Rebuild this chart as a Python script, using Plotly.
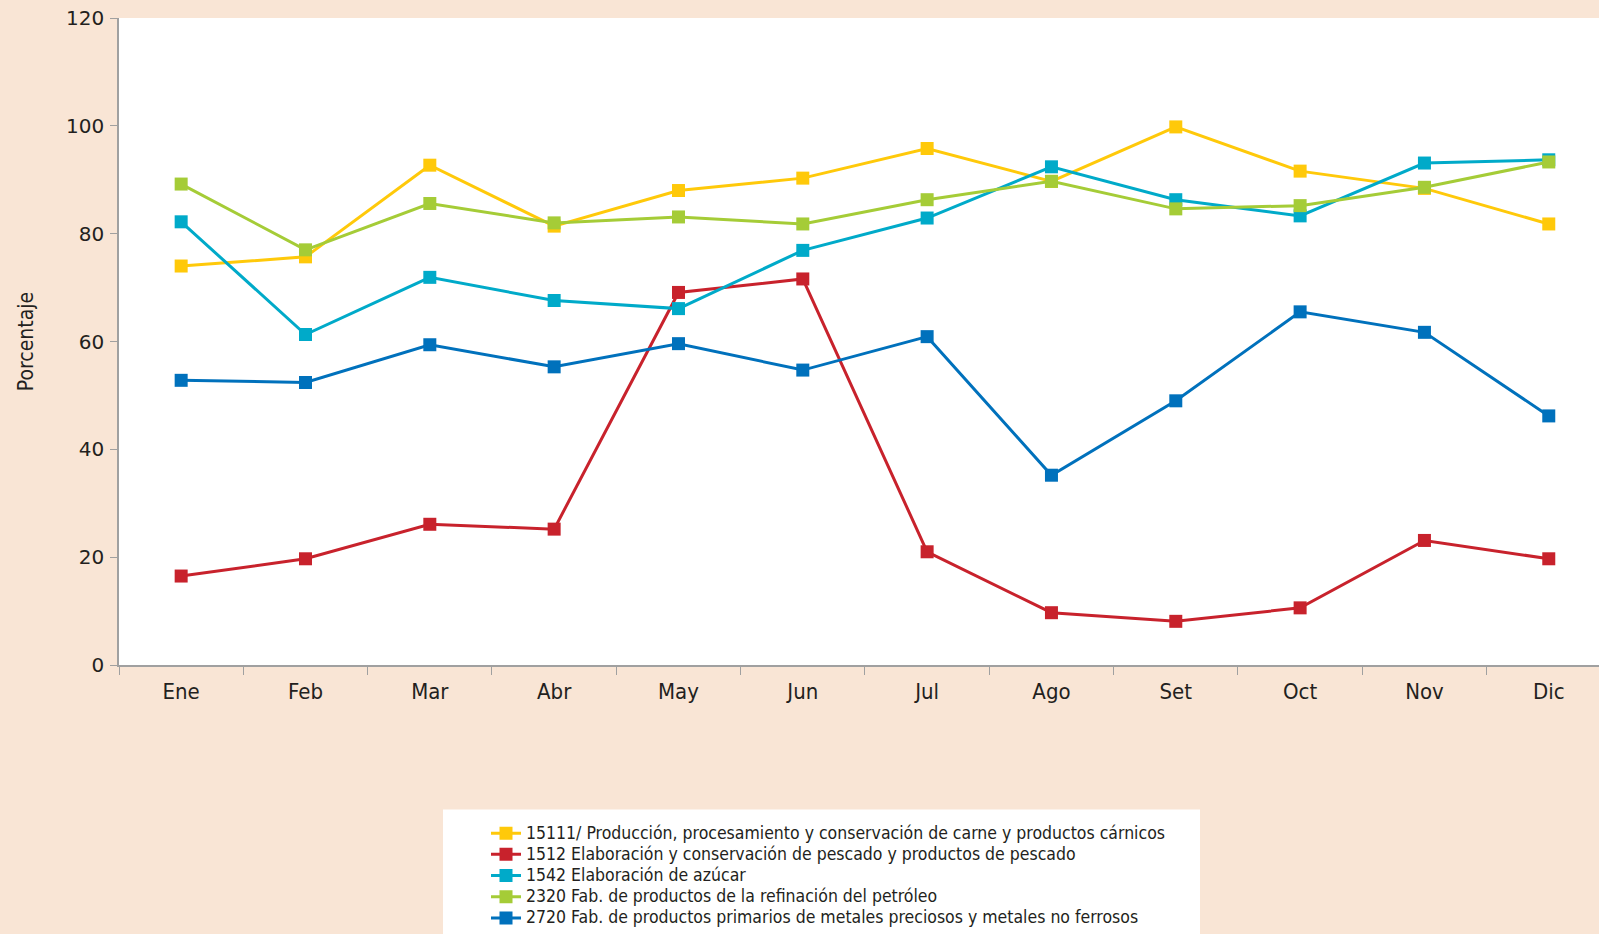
import plotly.graph_objects as go

months = ["Ene", "Feb", "Mar", "Abr", "May", "Jun", "Jul", "Ago", "Set", "Oct", "Nov", "Dic"]

s15111 = [74.0, 75.7, 92.7, 81.4, 88.0, 90.3, 95.8, 89.7, 99.8, 91.6, 88.4, 81.8]
s1512 = [16.5, 19.7, 26.1, 25.2, 69.1, 71.6, 21.0, 9.7, 8.1, 10.6, 23.1, 19.7]
s1542 = [82.2, 61.3, 71.9, 67.6, 66.1, 76.9, 82.9, 92.4, 86.3, 83.3, 93.1, 93.7]
s2320 = [89.2, 77.0, 85.6, 82.0, 83.1, 81.8, 86.3, 89.7, 84.6, 85.2, 88.6, 93.3]
s2720 = [52.8, 52.4, 59.4, 55.3, 59.6, 54.7, 60.9, 35.2, 49.0, 65.5, 61.7, 46.2]

names = [
    "15111/ Producción, procesamiento y conservación de carne y productos cárnicos",
    "1512 Elaboración y conservación de pescado y productos de pescado",
    "1542 Elaboración de azúcar",
    "2320 Fab. de productos de la refinación del petróleo",
    "2720 Fab. de productos primarios de metales preciosos y metales no ferrosos",
]
series = [s15111, s1512, s1542, s2320, s2720]
colors = ["#FFC90A", "#C8222C", "#00AAC9", "#A5CC37", "#0071BC"]

NARROW = "Liberation Sans Narrow, DejaVu Sans Condensed, Arial Narrow, sans-serif"

fig = go.Figure()
for n, s, c in zip(names, series, colors):
    fig.add_trace(go.Scatter(
        x=months, y=s, name='<span style="font-size:17.5px">' + n + '</span>',
        mode="lines+markers",
        line=dict(color=c, width=3),
        marker=dict(symbol="square", size=13, color=c),
    ))

W, H = 1599, 934
L, T, R, B = 119, 18, 0, 267
pw = W - L - R
ph = H - T - B

def px_x(p):
    return (p - L) / pw

def px_y(p):
    return (H - B - p) / ph

fig.add_shape(type="rect", xref="paper", yref="paper",
              x0=px_x(443), x1=px_x(1200), y0=px_y(940), y1=px_y(812),
              fillcolor="white", line=dict(width=0), layer="below")

fig.update_layout(
    width=W, height=H, autosize=False,
    margin=dict(l=L, r=R, t=T, b=B, pad=0),
    paper_bgcolor="#F9E5D5",
    plot_bgcolor="white",
    showlegend=True,
    legend=dict(
        x=px_x(486), y=px_y(820), xanchor="left", yanchor="top",
        bgcolor="rgba(0,0,0,0)", borderwidth=0,
        font=dict(family=NARROW, size=14, color="#231F20"),
        itemwidth=30, tracegroupgap=0,
    ),
    xaxis=dict(
        type="category", range=[-0.5, 11.404],
        tickson="boundaries", ticks="outside", ticklen=8, tickcolor="#A0A0A0",
        showline=True, linecolor="#A0A0A0", linewidth=1.5,
        showgrid=False, zeroline=False, ticklabelstandoff=6,
        tickfont=dict(family=NARROW, size=22, color="#231F20"),
    ),
    yaxis=dict(
        range=[0, 120], tickvals=[0, 20, 40, 60, 80, 100, 120],
        ticks="outside", ticklen=7, tickcolor="#A0A0A0",
        showline=True, linecolor="#A0A0A0", linewidth=1.5,
        showgrid=False, zeroline=False, ticklabelstandoff=2,
        tickfont=dict(family="DejaVu Sans, sans-serif", size=20, color="#231F20"),
        title=dict(text="Porcentaje", font=dict(family=NARROW, size=21, color="#231F20"), standoff=27),
    ),
)

fig.write_html("out.html", config={"displayModeBar": False, "responsive": False},
               post_script="document.body.style.margin='0';document.body.style.overflow='hidden';")
